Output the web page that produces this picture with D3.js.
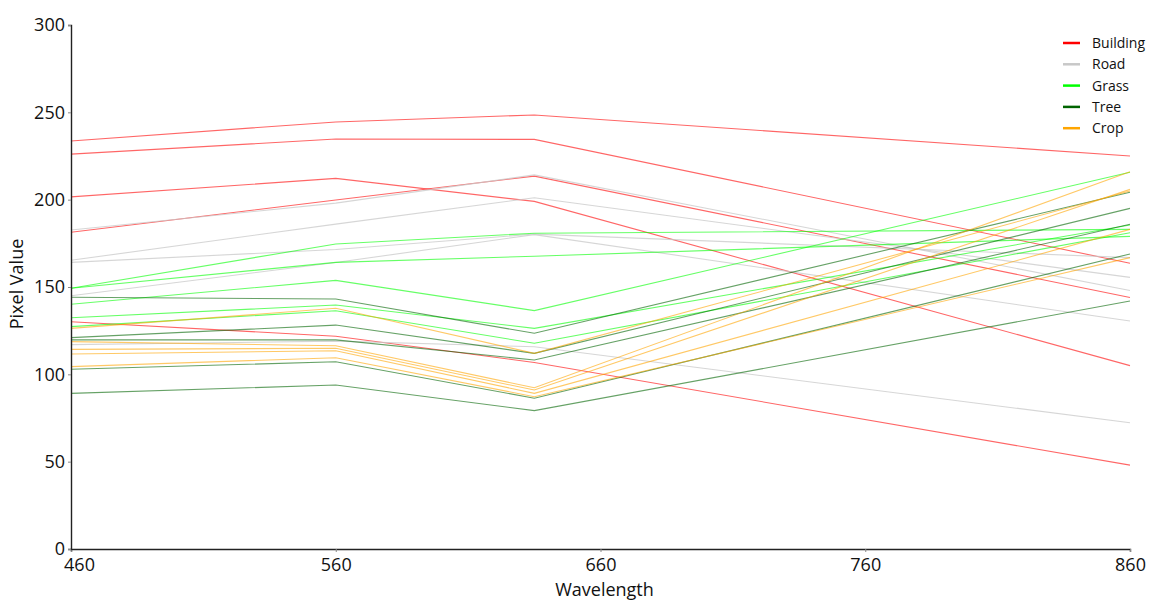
<!DOCTYPE html>
<html>
<head>
<meta charset="utf-8">
<script src="https://cdn.jsdelivr.net/npm/d3@7"></script>
<style>
  html, body { margin: 0; padding: 0; background: #fff; }
  svg { display: block; font-family: "Open Sans", sans-serif; }
</style>
</head>
<body>
<svg id="chart" width="1149" height="601"></svg>
<script>
// ---- data ----
const wavelengths = [460, 560, 635, 860];
const classes = ["Building", "Road", "Grass", "Tree", "Crop"];
const classColors = ["#ff0000", "#c8c8c8", "#00ff00", "#006400", "#ffa500"];

const building = [
  [233.6, 244.5, 248.5, 225.0],
  [226.1, 234.7, 234.5, 163.6],
  [201.6, 212.2, 199.0, 105.0],
  [181.3, 199.8, 213.5, 144.0],
  [130.1, 121.8, 106.8, 48.0]
];
const road = [
  [182.6, 198.0, 214.2, 148.0],
  [165.3, 186.0, 201.1, 155.5],
  [164.1, 171.5, 180.3, 166.8],
  [145.0, 164.0, 180.0, 130.5],
  [117.0, 119.0, 115.8, 72.3]
];
const grass = [
  [149.3, 174.6, 180.8, 183.0],
  [149.3, 164.1, 167.6, 179.0],
  [140.1, 153.8, 136.5, 215.7],
  [132.4, 139.7, 126.3, 185.5],
  [127.3, 136.4, 117.8, 181.1]
];
const tree = [
  [144.1, 143.1, 123.5, 204.2],
  [121.0, 128.2, 112.0, 195.0],
  [119.7, 119.7, 108.2, 185.9],
  [102.9, 107.2, 86.3, 168.9],
  [89.1, 93.9, 79.2, 142.0]
];
const crop = [
  [126.3, 137.8, 112.0, 205.0],
  [118.7, 116.4, 92.3, 216.0],
  [114.3, 114.9, 91.0, 205.9],
  [111.6, 113.5, 89.1, 183.0],
  [104.4, 109.5, 87.2, 166.8]
];
const xTicks = [460, 560, 660, 760, 860];
const yTicks = [0, 50, 100, 150, 200, 250, 300];
const xTitle = "Wavelength";
const yTitle = "Pixel Value";

const seriesByClass = [building, road, grass, tree, crop];

// ---- chart ----
const svg = d3.select("#chart");
const x = d3.scaleLinear().domain([460, 860]).range([71, 1130]);
const y = d3.scaleLinear().domain([0, 300]).range([549, 25]);

const line = d3.line()
  .x((d, i) => x(wavelengths[i]))
  .y(d => y(d));

const plot = svg.append("g");
seriesByClass.forEach((rows, ci) => {
  plot.selectAll(null)
    .data(rows)
    .enter()
    .append("path")
    .attr("d", line)
    .attr("fill", "none")
    .attr("stroke", classColors[ci])
    .attr("stroke-opacity", ci === 1 ? 0.75 : 0.6)
    .attr("stroke-width", 1.1);
});

// axes
const xAxis = svg.append("g")
  .attr("transform", `translate(0,${y(0)})`)
  .call(d3.axisBottom(x).tickValues(xTicks).tickSize(3).tickPadding(6).tickFormat(d3.format("d")));
xAxis.select(".domain").attr("stroke", "#222").attr("stroke-width", 1.4);
xAxis.selectAll(".tick line").attr("stroke", "#888");
xAxis.selectAll(".tick text")
  .attr("font-size", 18)
  .attr("fill", "#111")
  .attr("font-family", "'Open Sans', sans-serif")
  .attr("dx", (d, i) => i === 0 ? 8 : 0);

const yAxis = svg.append("g")
  .attr("transform", `translate(${x(460)},0)`)
  .call(d3.axisLeft(y).tickValues(yTicks).tickSize(3).tickPadding(3).tickFormat(d3.format("d")));
yAxis.select(".domain").attr("stroke", "#222").attr("stroke-width", 1.4);
yAxis.selectAll(".tick line").attr("stroke", "#888");
yAxis.selectAll(".tick text")
  .attr("font-size", 18)
  .attr("fill", "#111")
  .attr("font-family", "'Open Sans', sans-serif");

// titles
svg.append("text")
  .attr("x", (x(460) + x(860)) / 2 + 4)
  .attr("y", 596)
  .attr("text-anchor", "middle")
  .attr("font-size", 18)
  .attr("fill", "#111")
  .text(xTitle);

svg.append("text")
  .attr("transform", `translate(23,${284}) rotate(-90)`)
  .attr("text-anchor", "middle")
  .attr("font-size", 18)
  .attr("fill", "#111")
  .text(yTitle);

// legend
const legend = svg.append("g").attr("transform", "translate(1063,43)");
const items = legend.selectAll("g")
  .data(classes)
  .enter()
  .append("g")
  .attr("transform", (d, i) => `translate(0,${i * 21.3})`);
items.append("line")
  .attr("x1", 0).attr("x2", 17)
  .attr("y1", 0).attr("y2", 0)
  .attr("stroke", (d, i) => classColors[i])
  .attr("stroke-width", 2.5);
items.append("text")
  .attr("x", 29)
  .attr("y", 0)
  .attr("dy", "0.35em")
  .attr("font-size", 14)
  .attr("fill", "#111")
  .text(d => d);
</script>
</body>
</html>
